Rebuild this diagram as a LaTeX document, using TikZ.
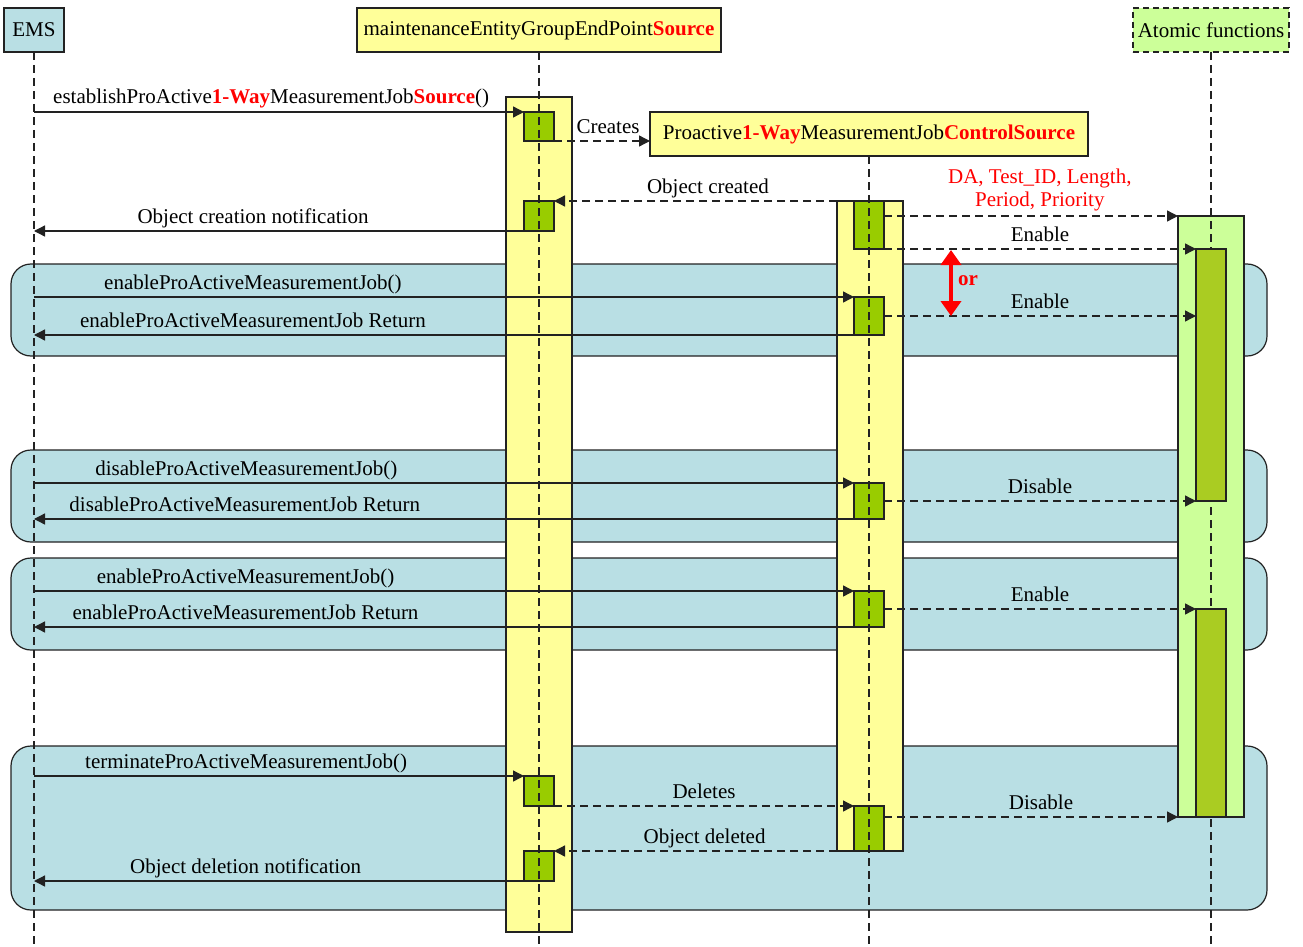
\documentclass[tikz,border=0pt]{standalone}
\usepackage{fontspec}
\setmainfont{Liberation Serif}
\usetikzlibrary{arrows.meta}
\definecolor{bandc}{HTML}{B9DFE4}
\definecolor{yel}{HTML}{FFFF99}
\definecolor{grn}{HTML}{99CC00}
\definecolor{lgrn}{HTML}{CCFF99}
\definecolor{olv}{HTML}{AACC22}
\definecolor{ln}{HTML}{222222}
\definecolor{redt}{HTML}{FF0000}
\newcommand{\rb}[1]{\textbf{\textcolor{redt}{#1}}}
\tikzset{
  band/.style={draw=ln, line width=1.2pt, fill=bandc, rounded corners=20pt, inner sep=0pt, outer sep=0pt},
  bar/.style={draw=ln, line width=1.2pt, inner sep=0pt, outer sep=0pt},
  hdr/.style={draw=ln, line width=1.2pt, inner sep=0pt, outer sep=0pt, minimum height=44pt},
  life/.style={draw=ln, line width=1.2pt, dash pattern=on 8pt off 5pt},
  call/.style={draw=ln, line width=1.3pt, -{Triangle[length=11pt,width=11pt]}},
  ret/.style={call, dash pattern=on 8pt off 5pt},
  lbl/.style={anchor=base, yshift=8pt, inner sep=0pt, text=black},
}
\begin{document}
\begin{tikzpicture}[x=1pt,y=-1pt, font=\fontsize{21}{23}\selectfont]
\useasboundingbox (0,0) rectangle (1303,947);
\coordinate (bot) at (0,947);
% bands
\node[band, minimum width=1256pt, minimum height=92pt] (b1) at (639,310) {};
\node[band, minimum width=1256pt, minimum height=92pt] (b2) at (639,496) {};
\node[band, minimum width=1256pt, minimum height=92pt] (b3) at (639,604) {};
\node[band, minimum width=1256pt, minimum height=164pt] (b4) at (639,828) {};
% headers
\node[hdr, fill=bandc, minimum width=60pt] (ems) at (34,30) {EMS};
\node[hdr, fill=yel, minimum width=364pt] (meg) at (539,30) {maintenanceEntityGroupEndPoint\rb{Source}};
\node[hdr, fill=yel, minimum width=438pt] (ctl) at (869,134) {Proactive\rb{1-Way}MeasurementJob\rb{ControlSource}};
\node[hdr, fill=lgrn, dash pattern=on 6pt off 4pt, minimum width=156pt] (atf) at (1211,30) {Atomic functions};
% activation bars
\node[bar, fill=yel, minimum width=66pt, minimum height=835pt] (mbar) at (539,514.5) {};
\node[bar, fill=yel, minimum width=66pt, minimum height=650pt] (cbar) at (870,526) {};
\node[bar, fill=lgrn, minimum width=66pt, minimum height=601pt] (abar) at (1211,516.5) {};
% small boxes
\node[bar, fill=grn, minimum width=30pt, minimum height=29pt] (m1) at (539,126.5) {};
\node[bar, fill=grn, minimum width=30pt, minimum height=30pt] (m2) at (539,216) {};
\node[bar, fill=grn, minimum width=30pt, minimum height=30pt] (m3) at (539,791) {};
\node[bar, fill=grn, minimum width=30pt, minimum height=30pt] (m4) at (539,866) {};
\node[bar, fill=grn, minimum width=30pt, minimum height=48pt] (c1) at (869,225) {};
\node[bar, fill=grn, minimum width=30pt, minimum height=38pt] (c2) at (869,316) {};
\node[bar, fill=grn, minimum width=30pt, minimum height=36pt] (c3) at (869,501) {};
\node[bar, fill=grn, minimum width=30pt, minimum height=36pt] (c4) at (869,609) {};
\node[bar, fill=grn, minimum width=30pt, minimum height=45pt] (c5) at (869,828.5) {};
% lifelines
\draw[life] (ems.south) -- (ems.south |- bot);
\draw[life] (meg.south) -- (meg.south |- bot);
\draw[life] (ctl.south) -- (ctl.south |- bot);
\draw[life] (atf.south) -- (atf.south |- bot);
% atomic activations
\node[bar, fill=olv, minimum width=30pt, minimum height=252pt] (ao1) at (1211,375) {};
\node[bar, fill=olv, minimum width=30pt, minimum height=208pt] (ao2) at (1211,713) {};
% messages
\draw[call] (m1.north west -| ems) -- node[lbl, pos=0.484]{establishProActive\rb{1-Way}MeasurementJob\rb{Source}()} (m1.north west);
\draw[ret] (m1.south east) -- node[lbl, pos=0.5625]{Creates} (m1.south east -| ctl.west);
\draw[ret] (cbar.north west) -- node[lbl, pos=0.456]{Object created} (m2.north east);
\draw[call] (m2.south west) -- node[lbl, pos=0.553]{Object creation notification} (m2.south west -| ems);
\draw[ret] (c1.north east |- abar.north west) -- node[pos=0.53, anchor=south, yshift=4.5pt, inner sep=0pt, align=center, text=redt, font=\fontsize{21}{23}\selectfont]{DA, Test\_ID, Length,\\Period, Priority} (abar.north west);
\draw[ret] (c1.south east) -- node[lbl, pos=0.5]{Enable} (c1.south east -| ao1.west);
\draw[call] (c2.north west -| ems) -- node[lbl, pos=0.267]{enableProActiveMeasurementJob()} (c2.north west);
\draw[call] (c2.south west) -- node[lbl, pos=0.733]{enableProActiveMeasurementJob Return} (c2.south west -| ems);
\draw[ret] (c2.east) -- node[lbl, pos=0.5]{Enable} (c2.east -| ao1.west);
\coordinate (orA) at (951,250);
\coordinate (orB) at (951,316);
\draw[redt, line width=4pt, {Triangle[length=15pt,width=20pt]}-{Triangle[length=15pt,width=20pt]}] (orA) -- (orB);
\node[text=redt, font=\fontsize{21}{23}\selectfont\bfseries] (ortxt) at (968,281) {or};
\draw[call] (c3.north west -| ems) -- node[lbl, pos=0.259]{disableProActiveMeasurementJob()} (c3.north west);
\draw[call] (c3.south west) -- node[lbl, pos=0.743]{disableProActiveMeasurementJob Return} (c3.south west -| ems);
\draw[ret] (c3.east) -- node[lbl, pos=0.5]{Disable} (c3.east -| ao1.west);
\draw[call] (c4.north west -| ems) -- node[lbl, pos=0.258]{enableProActiveMeasurementJob()} (c4.north west);
\draw[call] (c4.south west) -- node[lbl, pos=0.742]{enableProActiveMeasurementJob Return} (c4.south west -| ems);
\draw[ret] (c4.east) -- node[lbl, pos=0.5]{Enable} (c4.east -| ao2.west);
\draw[call] (m3.north west -| ems) -- node[lbl, pos=0.433]{terminateProActiveMeasurementJob()} (m3.north west);
\draw[ret] (m3.south east) -- node[lbl, pos=0.5]{Deletes} (c5.north west);
\draw[ret] (c5.east |- abar.south west) -- node[lbl, pos=0.534]{Disable} (abar.south west);
\draw[ret] (cbar.south west) -- node[lbl, pos=0.468]{Object deleted} (m4.north east);
\draw[call] (m4.south west) -- node[lbl, pos=0.568]{Object deletion notification} (m4.south west -| ems);
\end{tikzpicture}
\end{document}
